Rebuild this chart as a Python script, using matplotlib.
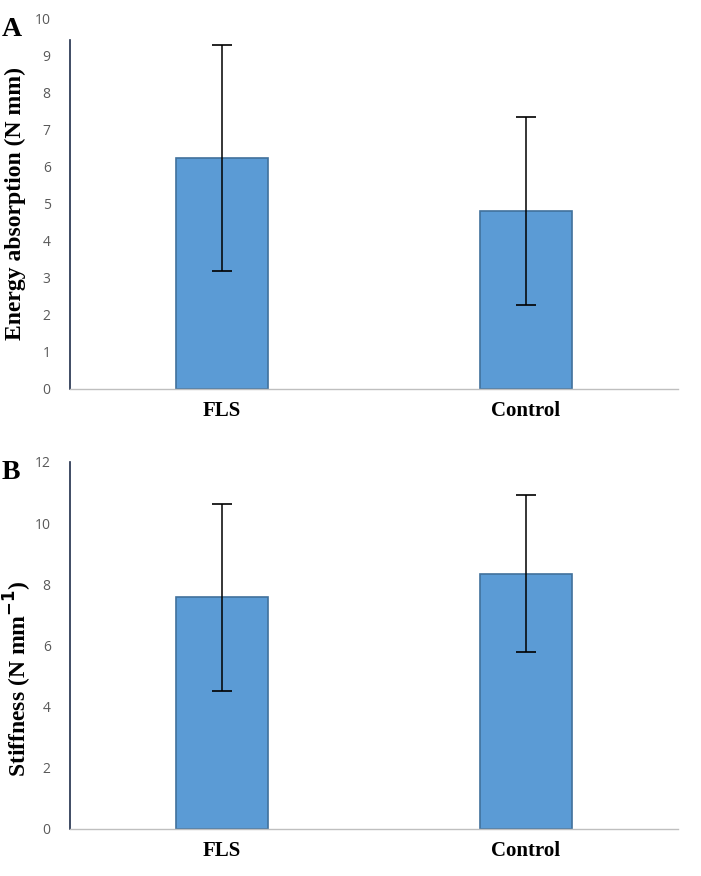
import numpy as np
import matplotlib
matplotlib.use("Agg")
import matplotlib.pyplot as plt

groups = ["FLS", "Control"]

energy = [6.25, 4.82]
energy_sd = [3.05, 2.54]

stiff = [7.57, 8.35]
stiff_sd = [3.07, 2.57]

bar_col = "#5B9BD5"
edge_col = "#41719C"

fig = plt.figure(figsize=(7.01, 8.76), dpi=100)

def panel(rect, vals, sd, ymax, yticks, spine_top, ylabel, label_xy, letter):
    ax = fig.add_axes(rect)
    x = np.arange(len(groups))
    ax.bar(x, vals, width=0.3, color=bar_col, edgecolor=edge_col, linewidth=1.2, zorder=2)
    ax.errorbar(x, vals, yerr=sd, fmt="none", ecolor="black", elinewidth=1.1,
                capsize=7, capthick=1.2, zorder=3)
    ax.set_xlim(-0.5, 1.5)
    ax.set_ylim(0, ymax)
    ax.set_yticks(yticks)
    ax.set_xticks(x)
    ax.set_xticklabels(groups, fontfamily="Liberation Serif", fontweight="bold", fontsize=15)
    for lab in ax.get_yticklabels():
        lab.set_fontfamily("Open Sans")
        lab.set_fontsize(10)
        lab.set_color("#595959")
    ax.tick_params(axis="both", length=0)
    ax.tick_params(axis="y", pad=14)
    ax.tick_params(axis="x", pad=9)
    for s in ["top", "right"]:
        ax.spines[s].set_visible(False)
    ax.spines["bottom"].set_color("#BFBFBF")
    ax.spines["bottom"].set_linewidth(1.0)
    ax.spines["left"].set_color("#1F2D4A")
    ax.spines["left"].set_linewidth(1.2)
    ax.spines["left"].set_bounds(0, spine_top)
    ax.set_ylabel(ylabel, fontfamily="Liberation Serif", fontweight="bold", fontsize=17)
    ax.yaxis.set_label_coords(*label_xy)
    ax.text(-0.113, 1.005, letter, transform=ax.transAxes, fontfamily="Liberation Serif",
            fontweight="bold", fontsize=20, ha="left", va="top")
    return ax

panel([0.1, 0.556, 0.867, 0.4224], energy, energy_sd, 10, np.arange(0, 11, 1), 9.42,
      "Energy absorption (N mm)", (-0.072, 0.5), "A")
panel([0.1, 0.0537, 0.867, 0.419], stiff, stiff_sd, 12, np.arange(0, 13, 2), 12,
      "Stiffness (N mm$^{\\mathbf{-1}}$)", (-0.06, 0.41), "B")

fig.savefig("out.png", dpi=100)
